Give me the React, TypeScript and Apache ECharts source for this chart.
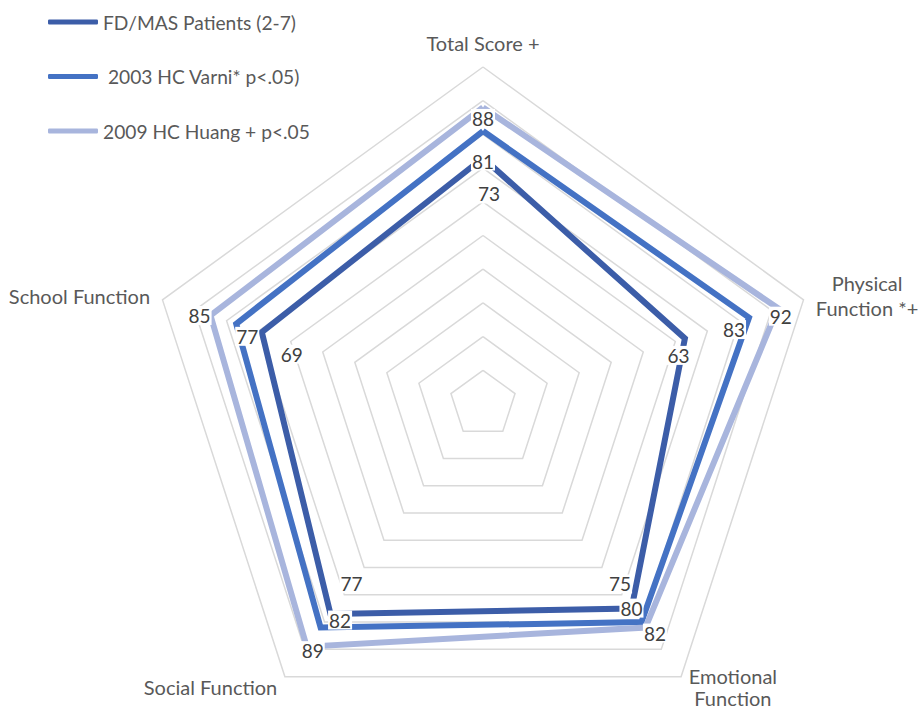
import React, { useEffect, useRef } from 'react';
import * as echarts from 'echarts';

// ---- data ----
const INDICATORS = ['Total Score +', 'Physical\nFunction *+', 'Emotional\nFunction', 'Social Function', 'School Function'];
const SERIES_NAMES = ['FD/MAS Patients (2-7)', ' 2003 HC Varni* p<.05)', '2009 HC Huang + p<.05'];
const FDMAS = [73, 63, 75, 77, 69];
const VARNI = [81, 83, 80, 82, 77];
const HUANG = [88, 92, 82, 89, 85];
const AXIS_MIN = 0;
const AXIS_MAX = 100;
const SPLITS = 10;

// ---- styles ----
const COLORS = ['#3C5DA8', '#4472C4', '#A8B5DD'];
// label offsets (px) per series, per indicator (natural order)
const LABEL_OFFSETS: number[][][] = [
  [[6, 36], [-6.5, 17], [-11.5, -24.5], [21, -30], [30, 22]],
  [[0, 30], [-15, 12], [-10, -14], [19.5, -7.5], [11, 12.5]],
  [[0, 11], [3, 8], [9.5, 5.5], [6, 4], [-11, 0]],
];
// ECharts lays indicators counter-clockwise; reorder to get clockwise layout
const ORDER = [0, 4, 3, 2, 1];

export default function App() {
  const ref = useRef<HTMLDivElement>(null);
  useEffect(() => {
    if (!ref.current) return;
    const chart = echarts.init(ref.current, undefined, { renderer: 'svg' });
    const all = [FDMAS, VARNI, HUANG];
    const mainItems = all.map((vals, s) => ({
      name: SERIES_NAMES[s],
      value: ORDER.map((i) => vals[i]),
      symbol: 'none',
      lineStyle: { color: COLORS[s], width: 6, join: 'miter' },
      itemStyle: { color: COLORS[s] },
      label: { show: false },
    }));
    const labelItems: any[] = [];
    all.forEach((vals, s) => {
      ORDER.forEach((nat, d) => {
        labelItems.push({
          name: `lbl_${s}_${d}`,
          value: ORDER.map((i) => vals[i]),
          symbol: 'circle',
          symbolSize: 1,
          itemStyle: { color: 'rgba(0,0,0,0)' },
          lineStyle: { width: 0, opacity: 0 },
          label: {
            show: true,
            position: 'inside',
            offset: LABEL_OFFSETS[s][nat],
            formatter: (p: any) => (p.dimensionIndex === d ? `{b|${p.value}}` : ''),
            rich: {
              b: {
                color: '#404040',
                fontSize: 19,
                fontFamily: 'Lato',
                backgroundColor: '#ffffff',
                padding: [0, 1],
              },
            },
          },
        });
      });
    });

    const nameStyle = { align: 'center', color: '#595959', fontSize: 20, fontFamily: 'Lato' };
    chart.setOption({
      animation: false,
      backgroundColor: '#ffffff',
      legend: {
        orient: 'vertical',
        left: 48,
        top: 11,
        padding: 0,
        itemWidth: 50,
        itemHeight: 5,
        itemGap: 32.5,
        icon: 'roundRect',
        selectedMode: false,
        textStyle: { color: '#595959', fontSize: 19.2, fontFamily: 'Lato', lineHeight: 22 },
        data: SERIES_NAMES.map((n, i) => ({ name: n, itemStyle: { color: COLORS[i] } })),
      },
      radar: {
        center: [483, 404],
        radius: 337,
        startAngle: 90,
        shape: 'polygon',
        splitNumber: SPLITS,
        nameGap: 13,
        indicator: ORDER.map((i) => ({ name: INDICATORS[i], min: AXIS_MIN, max: AXIS_MAX })),
        axisName: {
          color: '#595959',
          fontSize: 20,
          fontFamily: 'Lato',
          lineHeight: 22,
          formatter: (name: string) => {
            if (!name.includes('\n')) return name;
            const key = name.startsWith('Emotional') ? 'e' : 'p';
            return name.split('\n').map((l) => `{${key}|${l}}`).join('\n');
          },
          rich: {
            p: { ...nameStyle, lineHeight: 25 },
            e: { ...nameStyle, lineHeight: 22 },
          },
        },
        splitLine: { lineStyle: { color: '#D9D9D9', width: 1.5 } },
        splitArea: { show: false },
        axisLine: { show: false },
        axisTick: { show: false },
        axisLabel: { show: false },
      },
      series: [
        {
          type: 'radar',
          silent: true,
          emphasis: { disabled: true },
          data: [...mainItems, ...labelItems],
        },
      ],
    });
    return () => chart.dispose();
  }, []);
  return (
    <div
      ref={ref}
      style={{ position: 'absolute', left: 0, top: 0, width: 922, height: 710, background: '#fff' }}
    />
  );
}
